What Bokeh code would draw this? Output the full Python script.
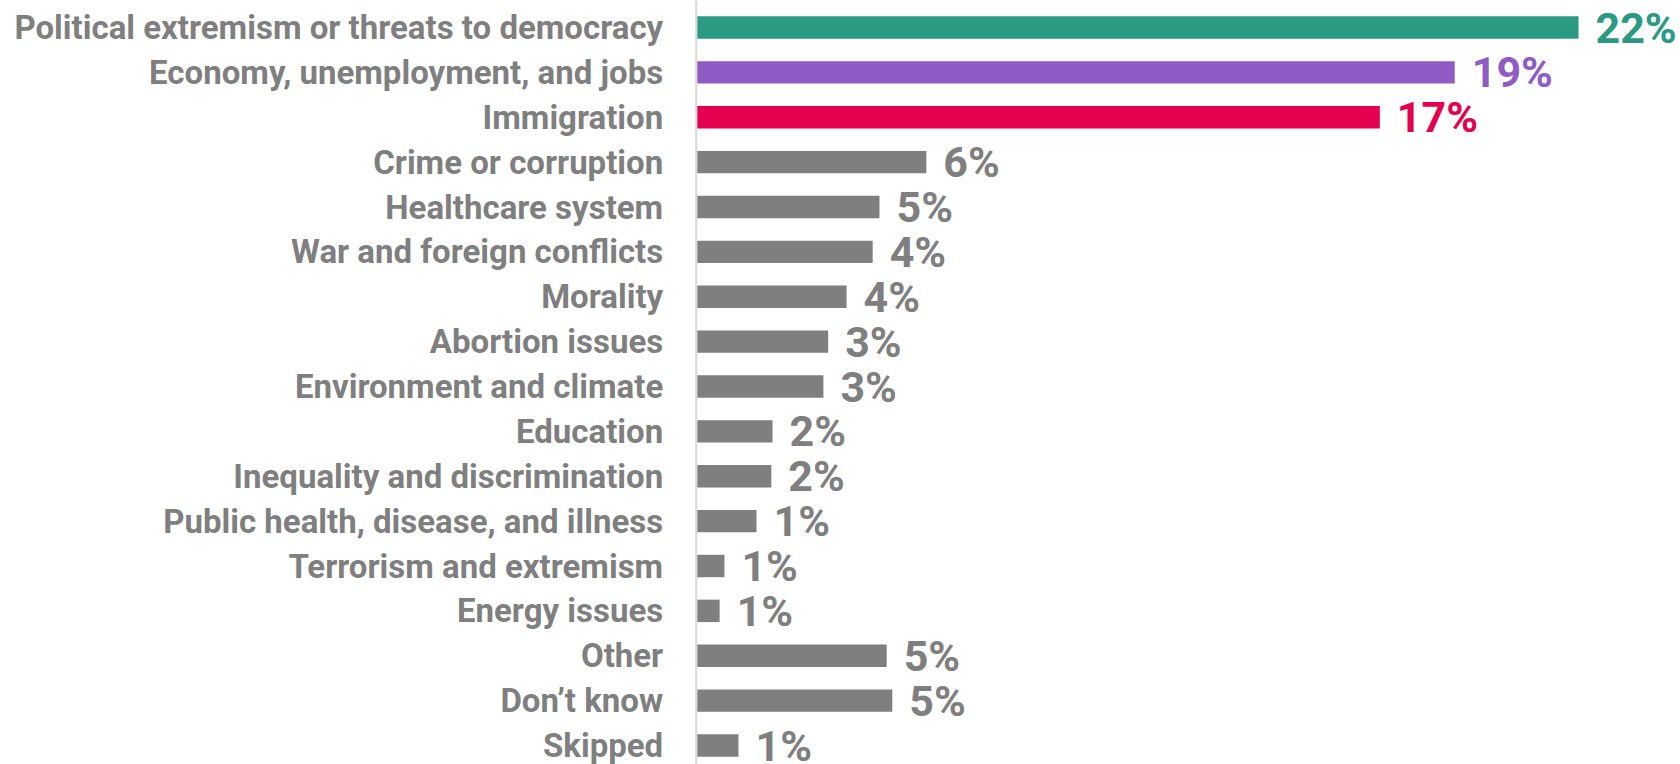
from bokeh.plotting import figure
from bokeh.models import ColumnDataSource, Range1d, Span
from bokeh.core.properties import value
from bokeh.embed import file_html
from bokeh.resources import INLINE

categories = [
    "Political extremism or threats to democracy",
    "Economy, unemployment, and jobs",
    "Immigration",
    "Crime or corruption",
    "Healthcare system",
    "War and foreign conflicts",
    "Morality",
    "Abortion issues",
    "Environment and climate",
    "Education",
    "Inequality and discrimination",
    "Public health, disease, and illness",
    "Terrorism and extremism",
    "Energy issues",
    "Other",
    "Don\u2019t know",
    "Skipped",
]
values = [22.0, 18.91, 17.04, 5.72, 4.55, 4.38, 3.73, 3.27, 3.15, 1.88, 1.85, 1.48, 0.68, 0.56, 4.73, 4.87, 1.03]
value_labels = ["22%", "19%", "17%", "6%", "5%", "4%", "4%", "3%", "3%", "2%", "2%", "1%", "1%", "1%", "5%", "5%", "1%"]
GRAY = "#7f7f7f"
colors = ["#2b9a83", "#8e5cc4", "#e5004f"] + [GRAY] * 14

n = len(categories)
ypos = [n - 1 - i for i in range(n)]

src = ColumnDataSource(dict(cat=categories, val=values, lab=value_labels,
                            col=colors, y=ypos, zero=[0] * n))

W, H = 1680, 764
row_px = 44.875
px_per_pct = 40.06
y_top = (n - 1) + 27 / row_px
y_bot = y_top - H / row_px
x_start = -696.7 / px_per_pct
x_end = x_start + W / px_per_pct

p = figure(width=W, height=H, output_backend="svg", toolbar_location=None,
           x_range=Range1d(x_start, x_end), y_range=Range1d(y_bot, y_top),
           min_border=0, min_border_left=0, min_border_right=0,
           min_border_top=0, min_border_bottom=0)
p.axis.visible = False
p.grid.visible = False
p.outline_line_color = None
p.background_fill_color = "white"
p.border_fill_color = "white"

p.hbar(y="y", left=0, right="val", height=0.5, fill_color="col",
       line_color=None, source=src)

p.add_layout(Span(location=-0.025, dimension="height", line_color="#d9d9d9",
                  line_width=2))

p.text(x="zero", y="y", text="cat", source=src, x_offset=-34,
       text_align="right", text_baseline="middle",
       text_font=value("Roboto"), text_font_style="bold",
       text_font_size="33px", text_color=GRAY)

p.text(x="val", y="y", text="lab", source=src, x_offset=17,
       text_align="left", text_baseline="middle",
       text_font=value("Roboto"), text_font_style="bold",
       text_font_size="43px", text_color="col")

open("out.html", "w").write(file_html(p, INLINE))
